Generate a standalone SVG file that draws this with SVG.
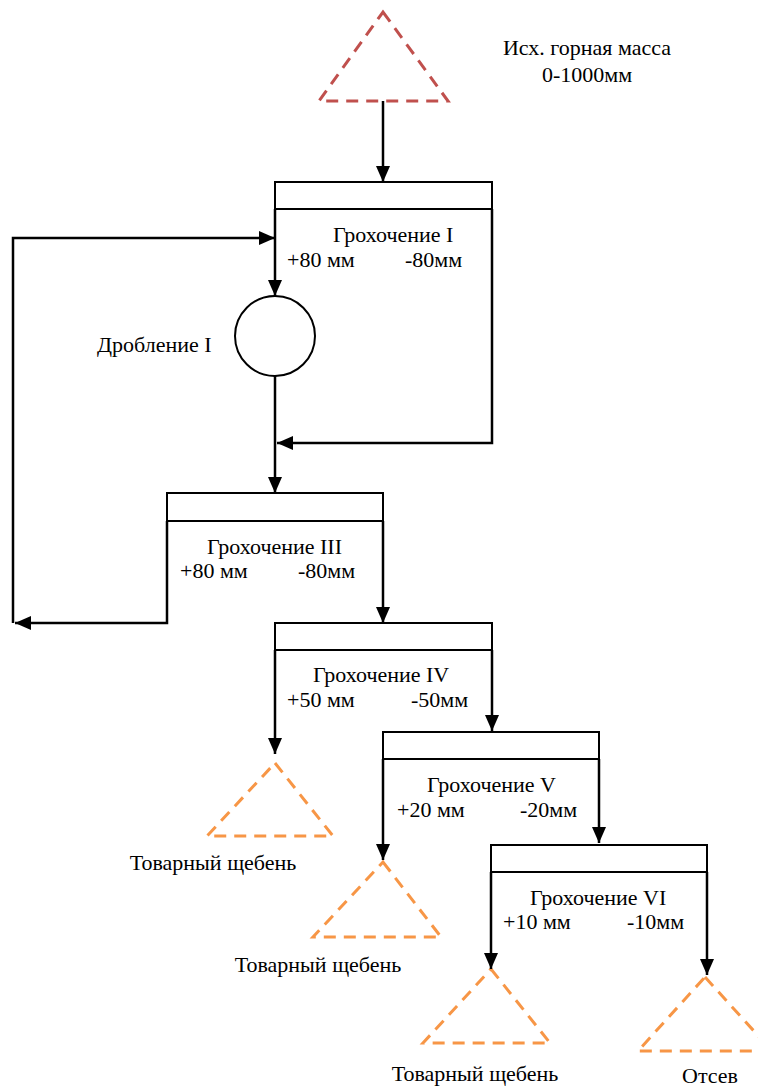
<svg xmlns="http://www.w3.org/2000/svg" width="758" height="1089" viewBox="0 0 758 1089">
<style>
text{font-family:"Liberation Serif","Times New Roman",serif;font-size:22px;fill:#000}
.c{text-anchor:middle}
.box{fill:none;stroke:#000;stroke-width:2}
.con{fill:none;stroke:#000;stroke-width:2.5}
.tri-red{fill:none;stroke:#c0504d;stroke-width:3;stroke-dasharray:12,8}
.tri-or{fill:none;stroke:#f79646;stroke-width:3;stroke-dasharray:12,8}
</style>
<defs>
<marker id="ah" markerUnits="userSpaceOnUse" markerWidth="16" markerHeight="14" refX="16" refY="7" orient="auto">
<path d="M0,0 L16,7 L0,14 z" fill="#000"/>
</marker>
</defs>
<rect width="758" height="1089" fill="#fff"/>
<g id="source">
<polygon class="tri-red" points="383,12 448,101 319,101"/>
<text class="c" x="587" y="55">Исх. горная масса</text>
<text class="c" x="587" y="82">0-1000мм</text>
</g>
<g id="screen1">
<rect class="box" x="275" y="182" width="217" height="27"/>
<text x="333" y="242">Грохочение I</text>
<text x="287" y="267">+80 мм</text>
<text x="405" y="267">-80мм</text>
</g>
<g id="crusher1">
<circle cx="275" cy="336" r="40" fill="none" stroke="#000" stroke-width="2"/>
<text x="97" y="352">Дробление I</text>
</g>
<g id="screen3">
<rect class="box" x="167" y="493" width="216" height="28"/>
<text x="207" y="554">Грохочение III</text>
<text x="180" y="578">+80 мм</text>
<text x="298" y="578">-80мм</text>
</g>
<g id="screen4">
<rect class="box" x="275" y="623" width="217" height="27"/>
<text x="313" y="682">Грохочение IV</text>
<text x="287" y="707">+50 мм</text>
<text x="411" y="707">-50мм</text>
</g>
<g id="screen5">
<rect class="box" x="383" y="732" width="216" height="27"/>
<text x="427" y="792">Грохочение V</text>
<text x="397" y="817">+20 мм</text>
<text x="520" y="817">-20мм</text>
</g>
<g id="screen6">
<rect class="box" x="491" y="845" width="216" height="27"/>
<text x="530" y="905">Грохочение VI</text>
<text x="503" y="929">+10 мм</text>
<text x="627" y="929">-10мм</text>
</g>
<g id="product1">
<polygon class="tri-or" points="275,763 333,836 207,836"/>
<text class="c" x="213" y="870">Товарный щебень</text>
</g>
<g id="product2">
<polygon class="tri-or" points="383,862 441,937 313,937"/>
<text class="c" x="318" y="972">Товарный щебень</text>
</g>
<g id="product3">
<polygon class="tri-or" points="491,969 550,1043 423,1043"/>
<text class="c" x="475" y="1081">Товарный щебень</text>
</g>
<g id="screenings">
<polygon class="tri-or" points="705,977 772,1051 638,1051"/>
<text class="c" x="710" y="1083">Отсев</text>
</g>
<g id="connectors">
<path class="con" d="M383,101 V182" marker-end="url(#ah)"/>
<path class="con" d="M275,209 V296" marker-end="url(#ah)"/>
<path class="con" d="M492,209 V443 H277" marker-end="url(#ah)"/>
<path class="con" d="M275,376 V493" marker-end="url(#ah)"/>
<path class="con" d="M167,521 V623 H15" marker-end="url(#ah)"/>
<path class="con" d="M13,623 V238 H275" marker-end="url(#ah)"/>
<path class="con" d="M383,521 V623" marker-end="url(#ah)"/>
<path class="con" d="M275,650 V754" marker-end="url(#ah)"/>
<path class="con" d="M492,650 V731" marker-end="url(#ah)"/>
<path class="con" d="M383,759 V860" marker-end="url(#ah)"/>
<path class="con" d="M599,759 V843" marker-end="url(#ah)"/>
<path class="con" d="M491,872 V969" marker-end="url(#ah)"/>
<path class="con" d="M707,872 V975" marker-end="url(#ah)"/>
</g>
</svg>
